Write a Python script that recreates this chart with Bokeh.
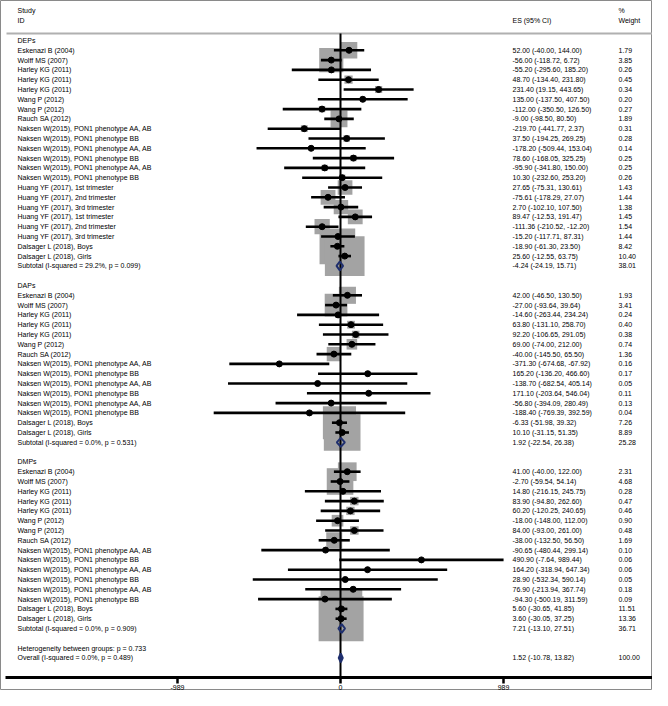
from bokeh.plotting import figure
from bokeh.models import Range1d, ColumnDataSource
from bokeh.core.properties import value
from bokeh.embed import file_html
from bokeh.resources import INLINE
import math

# ---------------- data ----------------
dep_labels = ["Eskenazi B (2004)", "Wolff MS (2007)", "Harley KG (2011)", "Harley KG (2011)",
              "Harley KG (2011)", "Wang P (2012)", "Wang P (2012)", "Rauch SA (2012)",
              "Naksen W(2015), PON1 phenotype AA, AB", "Naksen W(2015), PON1 phenotype BB",
              "Naksen W(2015), PON1 phenotype AA, AB", "Naksen W(2015), PON1 phenotype BB",
              "Naksen W(2015), PON1 phenotype AA, AB", "Naksen W(2015), PON1 phenotype BB",
              "Huang YF (2017), 1st trimester", "Huang YF (2017), 2nd trimester",
              "Huang YF (2017), 3rd trimester", "Huang YF (2017), 1st trimester",
              "Huang YF (2017), 2nd trimester", "Huang YF (2017), 3rd trimester",
              "Dalsager L (2018), Boys", "Dalsager L (2018), Girls"]
dep_es = [52.00, -56.00, -55.20, 48.70, 231.40, 135.00, -112.00, -9.00, -219.70, 37.50, -178.20,
          78.60, -95.90, 10.30, 27.65, -75.61, 2.70, 89.47, -111.36, -15.20, -18.90, 25.60]
dep_lo = [-40.00, -118.72, -295.60, -134.40, 19.15, -137.50, -350.50, -98.50, -441.77, -194.25,
          -509.44, -168.05, -341.80, -232.60, -75.31, -178.29, -102.10, -12.53, -210.52, -117.71,
          -61.30, -12.55]
dep_hi = [144.00, 6.72, 185.20, 231.80, 443.65, 407.50, 126.50, 80.50, 2.37, 269.25, 153.04,
          325.25, 150.00, 253.20, 130.61, 27.07, 107.50, 191.47, -12.20, 87.31, 23.50, 63.75]
dep_wt = [1.79, 3.85, 0.26, 0.45, 0.34, 0.20, 0.27, 1.89, 0.31, 0.28, 0.14, 0.25, 0.25, 0.26,
          1.43, 1.44, 1.38, 1.45, 1.54, 1.44, 8.42, 10.40]
dep_sub = (-4.24, -24.19, 15.71, 38.01, "Subtotal  (I-squared = 29.2%, p = 0.099)")

dap_labels = ["Eskenazi B (2004)", "Wolff MS (2007)", "Harley KG (2011)", "Harley KG (2011)",
              "Harley KG (2011)", "Wang P (2012)", "Rauch SA (2012)",
              "Naksen W(2015), PON1 phenotype AA, AB", "Naksen W(2015), PON1 phenotype BB",
              "Naksen W(2015), PON1 phenotype AA, AB", "Naksen W(2015), PON1 phenotype BB",
              "Naksen W(2015), PON1 phenotype AA, AB", "Naksen W(2015), PON1 phenotype BB",
              "Dalsager L (2018), Boys", "Dalsager L (2018), Girls"]
dap_es = [42.00, -27.00, -14.60, 63.80, 92.20, 69.00, -40.00, -371.30, 165.20, -138.70, 171.10,
          -56.80, -188.40, -6.33, 10.10]
dap_lo = [-46.50, -93.64, -263.44, -131.10, -106.65, -74.00, -145.50, -674.68, -136.20, -682.54,
          -203.64, -394.09, -769.39, -51.98, -31.15]
dap_hi = [130.50, 39.64, 234.24, 258.70, 291.05, 212.00, 65.50, -67.92, 466.60, 405.14, 546.04,
          280.49, 392.59, 39.32, 51.35]
dap_wt = [1.93, 3.41, 0.24, 0.40, 0.38, 0.74, 1.36, 0.16, 0.17, 0.05, 0.11, 0.13, 0.04, 7.26, 8.89]
dap_sub = (1.92, -22.54, 26.38, 25.28, "Subtotal  (I-squared = 0.0%, p = 0.531)")

dmp_labels = ["Eskenazi B (2004)", "Wolff MS (2007)", "Harley KG (2011)", "Harley KG (2011)",
              "Harley KG (2011)", "Wang P (2012)", "Wang P (2012)", "Rauch SA (2012)",
              "Naksen W(2015), PON1 phenotype AA, AB", "Naksen W(2015), PON1 phenotype BB",
              "Naksen W(2015), PON1 phenotype AA, AB", "Naksen W(2015), PON1 phenotype BB",
              "Naksen W(2015), PON1 phenotype AA, AB", "Naksen W(2015), PON1 phenotype BB",
              "Dalsager L (2018), Boys", "Dalsager L (2018), Girls"]
dmp_es = [41.00, -2.70, 14.80, 83.90, 60.20, -18.00, 84.00, -38.00, -90.65, 490.90, 164.20,
          28.90, 76.90, -94.30, 5.60, 3.60]
dmp_lo = [-40.00, -59.54, -216.15, -94.80, -120.25, -148.00, -93.00, -132.50, -480.44, -7.64,
          -318.94, -532.34, -213.94, -500.19, -30.65, -30.05]
dmp_hi = [122.00, 54.14, 245.75, 262.60, 240.65, 112.00, 261.00, 56.50, 299.14, 989.44, 647.34,
          590.14, 367.74, 311.59, 41.85, 37.25]
dmp_wt = [2.31, 4.68, 0.28, 0.47, 0.46, 0.90, 0.48, 1.69, 0.10, 0.06, 0.06, 0.05, 0.18, 0.09,
          11.51, 13.36]
dmp_sub = (7.21, -13.10, 27.51, 36.71, "Subtotal  (I-squared = 0.0%, p = 0.909)")

groups = [("DEPs", dep_labels, dep_es, dep_lo, dep_hi, dep_wt, dep_sub),
          ("DAPs", dap_labels, dap_es, dap_lo, dap_hi, dap_wt, dap_sub),
          ("DMPs", dmp_labels, dmp_es, dmp_lo, dmp_hi, dmp_wt, dmp_sub)]

het_text = "Heterogeneity between groups: p = 0.733"
overall = (1.52, -10.78, 13.82, 100.00, "Overall  (I-squared = 0.0%, p = 0.489)")
x_ticks = [-989, 0, 989]
x_tick_labels = ["-989", "0", "989"]

# ---------------- layout ----------------
W, H = 652, 690
UPP = 989 / 163.0          # data units per pixel
ZERO_PX = 340              # pixel position of x = 0
ROW0_PX = 40               # pixel position of first row
ROW_H = 9.8                # row height in px


def X(fx):
    return (fx - ZERO_PX) * UPP


def R(fy):
    return (fy - ROW0_PX) / ROW_H


FONT = value("Liberation Sans")
FS = "7px"
LX, EX, WX = 17, 512, 618

p = figure(width=W, height=H, output_backend="svg", toolbar_location=None,
           x_range=Range1d(X(0), X(W)), y_range=Range1d(R(H), R(0)),
           x_axis_location=None, y_axis_location=None, min_border=0)
p.grid.visible = False
p.outline_line_color = "#8a8a8a"
p.outline_line_width = 1
p.background_fill_color = "white"
p.border_fill_color = "white"

lab_x, lab_y, lab_t = [], [], []
es_y, es_t, wt_t = [], [], []
st_y, st_es, st_lo, st_hi, st_wt = [], [], [], [], []
dia_xs, dia_ys = [], []

row = 0
for name, labs, es, lo, hi, wt, sub in groups:
    lab_x.append(X(LX)); lab_y.append(row); lab_t.append(name)
    row += 1
    for i in range(len(labs)):
        lab_x.append(X(LX)); lab_y.append(row); lab_t.append(labs[i])
        es_y.append(row)
        es_t.append(f"{es[i]:.2f} ({lo[i]:.2f}, {hi[i]:.2f})")
        wt_t.append(f"{wt[i]:.2f}")
        st_y.append(row); st_es.append(es[i]); st_lo.append(lo[i]); st_hi.append(hi[i])
        st_wt.append(wt[i])
        row += 1
    s_es, s_lo, s_hi, s_wt, s_txt = sub
    lab_x.append(X(LX)); lab_y.append(row); lab_t.append(s_txt)
    es_y.append(row); es_t.append(f"{s_es:.2f} ({s_lo:.2f}, {s_hi:.2f})"); wt_t.append(f"{s_wt:.2f}")
    dia_xs.append([s_lo, s_es, s_hi, s_es]); dia_ys.append([row, row - 0.45, row, row + 0.45])
    row += 2

# heterogeneity and overall
lab_x.append(X(LX)); lab_y.append(row); lab_t.append(het_text)
row += 1
o_es, o_lo, o_hi, o_wt, o_txt = overall
lab_x.append(X(LX)); lab_y.append(row); lab_t.append(o_txt)
es_y.append(row); es_t.append(f"{o_es:.2f} ({o_lo:.2f}, {o_hi:.2f})"); wt_t.append(f"{o_wt:.2f}")
o_row = row

header_line_r = R(33)
axis_r = R(677)

# squares (area proportional to weight)
sq = ColumnDataSource(dict(x=st_es, y=st_y, s=[12.3 * math.sqrt(w) for w in st_wt]))
p.scatter(x="x", y="y", size="s", marker="square", source=sq,
          fill_color="#a3a3a3", line_color=None)

# header line
p.segment(x0=[X(6)], y0=[header_line_r], x1=[X(654)], y1=[header_line_r],
          line_color="#b0b0b0", line_width=2)

# null line
p.segment(x0=[0], y0=[header_line_r], x1=[0], y1=[axis_r], line_color="black", line_width=2)

# confidence intervals and point estimates
ci = ColumnDataSource(dict(lo=st_lo, hi=st_hi, y=st_y, x=st_es))
p.segment(x0="lo", y0="y", x1="hi", y1="y", source=ci, line_color="black", line_width=2.6)
p.scatter(x="x", y="y", source=ci, marker="circle", size=6, fill_color="black", line_color="black")

# subtotal diamonds
p.patches(xs=dia_xs, ys=dia_ys, fill_color=None, line_color="#1f2f6e", line_width=2)
# overall diamond
p.patch(x=[o_lo, o_es, o_hi, o_es], y=[o_row, o_row - 0.45, o_row, o_row + 0.45],
        fill_color="#1f2f6e", line_color="#1f2f6e", line_width=2)

# axis
p.segment(x0=[X(5)], y0=[axis_r], x1=[X(655)], y1=[axis_r], line_color="black", line_width=3)
p.segment(x0=x_ticks, y0=[axis_r] * 3, x1=x_ticks, y1=[R(683)] * 3, line_color="black", line_width=2.5)
p.text(x=x_ticks, y=[R(689.5)] * 3, text=x_tick_labels, text_font=FONT, text_font_size=FS,
       text_align="center", text_baseline="bottom", text_color="black")

# text columns
p.text(x=lab_x, y=lab_y, text=lab_t, text_font=FONT, text_font_size=FS,
       text_align="left", text_baseline="middle", text_color="black")
p.text(x=[X(EX)] * len(es_y), y=es_y, text=es_t, text_font=FONT, text_font_size=FS,
       text_align="left", text_baseline="middle", text_color="black")
p.text(x=[X(WX)] * len(es_y), y=es_y, text=wt_t, text_font=FONT, text_font_size=FS,
       text_align="left", text_baseline="middle", text_color="black")

# headers
p.text(x=[X(LX), X(LX), X(EX), X(WX), X(WX)],
       y=[R(10), R(20), R(20), R(10), R(20)],
       text=["Study", "ID", "ES (95% CI)", "%", "Weight"],
       text_font=FONT, text_font_size=FS, text_align="left", text_baseline="middle",
       text_color="black")

open("out.html", "w").write(file_html(p, INLINE))
